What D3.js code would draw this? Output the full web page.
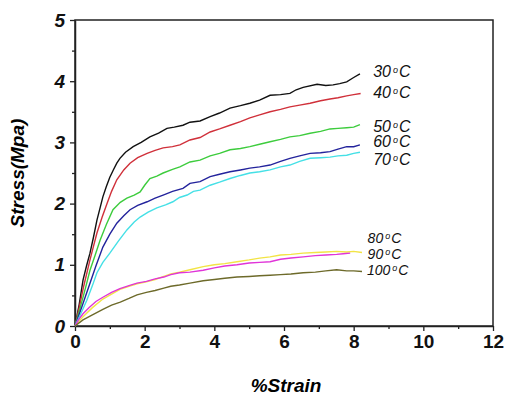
<!DOCTYPE html>
<html>
<head>
<meta charset="utf-8">
<script src="https://cdn.jsdelivr.net/npm/d3@7"></script>
<style>
  body { margin: 0; background: #fff; }
  text { font-family: Arial, "Liberation Sans", sans-serif; }
</style>
</head>
<body>
<div id="chart"></div>
<script>
// stress-strain readings, [strain %, stress MPa]
const c30 = [[0,0],[0.12,0.35],[0.23,0.75],[0.33,0.98],[0.43,1.19],[0.53,1.45],[0.63,1.73],[0.72,1.93],[0.8,2.11],[0.9,2.28],[1.0,2.43],[1.1,2.55],[1.2,2.66],[1.29,2.74],[1.45,2.84],[1.67,2.93],[1.9,3.0],[2.15,3.09],[2.4,3.15],[2.64,3.23],[2.85,3.25],[3.1,3.28],[3.3,3.33],[3.59,3.35],[3.88,3.42],[4.15,3.48],[4.45,3.56],[4.75,3.6],[5.02,3.64],[5.3,3.69],[5.6,3.77],[5.9,3.78],[6.17,3.8],[6.35,3.86],[6.55,3.9],[6.95,3.95],[7.2,3.93],[7.41,3.94],[7.6,3.96],[7.8,3.99],[8.0,4.06],[8.18,4.12]];
const c40 = [[0,0],[0.12,0.3],[0.25,0.65],[0.43,1.08],[0.53,1.3],[0.63,1.52],[0.78,1.78],[0.92,2.0],[1.05,2.2],[1.2,2.39],[1.4,2.55],[1.58,2.66],[1.8,2.75],[2.07,2.82],[2.3,2.87],[2.53,2.91],[2.8,2.93],[3.01,2.96],[3.3,3.04],[3.59,3.08],[3.88,3.17],[4.15,3.22],[4.45,3.28],[4.75,3.34],[5.02,3.4],[5.3,3.45],[5.6,3.5],[5.9,3.54],[6.17,3.58],[6.45,3.61],[6.75,3.64],[7.05,3.68],[7.32,3.71],[7.55,3.73],[7.8,3.76],[8.0,3.78],[8.2,3.8]];
const c50 = [[0,0],[0.15,0.3],[0.3,0.62],[0.43,0.91],[0.58,1.16],[0.72,1.4],[0.9,1.66],[1.09,1.9],[1.3,2.02],[1.49,2.09],[1.7,2.14],[1.87,2.19],[2.0,2.3],[2.15,2.41],[2.35,2.45],[2.53,2.5],[2.8,2.56],[3.01,2.6],[3.3,2.68],[3.59,2.71],[3.88,2.78],[4.15,2.82],[4.45,2.88],[4.75,2.9],[5.02,2.93],[5.3,2.97],[5.6,3.01],[5.9,3.05],[6.17,3.09],[6.45,3.11],[6.75,3.15],[7.05,3.18],[7.32,3.22],[7.55,3.23],[7.8,3.24],[8.0,3.25],[8.18,3.29]];
const c60 = [[0,0],[0.2,0.32],[0.43,0.7],[0.6,0.98],[0.8,1.29],[1.0,1.5],[1.2,1.68],[1.4,1.8],[1.58,1.9],[1.8,1.97],[2.07,2.03],[2.3,2.09],[2.53,2.14],[2.8,2.2],[3.1,2.25],[3.3,2.33],[3.59,2.36],[3.88,2.44],[4.15,2.48],[4.45,2.52],[4.75,2.55],[5.02,2.58],[5.3,2.6],[5.6,2.63],[5.9,2.69],[6.17,2.74],[6.45,2.78],[6.75,2.82],[7.05,2.83],[7.32,2.85],[7.55,2.89],[7.8,2.93],[8.0,2.93],[8.18,2.96]];
const c70 = [[0,0],[0.15,0.18],[0.34,0.42],[0.5,0.66],[0.63,0.87],[0.8,1.04],[1.0,1.19],[1.25,1.39],[1.49,1.57],[1.7,1.7],[1.87,1.78],[2.1,1.86],[2.35,1.93],[2.6,1.98],[2.81,2.03],[3.0,2.1],[3.22,2.14],[3.4,2.2],[3.59,2.22],[3.88,2.3],[4.15,2.35],[4.45,2.41],[4.75,2.46],[5.02,2.5],[5.3,2.52],[5.6,2.55],[5.9,2.6],[6.17,2.63],[6.45,2.69],[6.75,2.74],[7.05,2.75],[7.32,2.76],[7.55,2.78],[7.8,2.79],[8.0,2.82],[8.18,2.84]];
const c80 = [[0,0],[0.12,0.08],[0.23,0.15],[0.5,0.3],[0.8,0.44],[1.05,0.52],[1.29,0.6],[1.55,0.65],[1.78,0.69],[2.05,0.72],[2.3,0.76],[2.55,0.81],[2.75,0.85],[3.0,0.88],[3.3,0.92],[3.68,0.97],[4.0,1.0],[4.3,1.02],[4.65,1.05],[5.0,1.08],[5.3,1.11],[5.6,1.13],[5.9,1.16],[6.2,1.17],[6.55,1.19],[6.9,1.2],[7.2,1.21],[7.51,1.22],[7.8,1.21],[8.0,1.22],[8.24,1.2]];
const c90 = [[0,0],[0.1,0.1],[0.23,0.2],[0.4,0.3],[0.6,0.4],[0.8,0.47],[1.05,0.55],[1.29,0.61],[1.55,0.66],[1.78,0.7],[2.05,0.73],[2.3,0.77],[2.55,0.8],[2.75,0.84],[3.0,0.87],[3.3,0.88],[3.68,0.91],[4.0,0.95],[4.3,0.98],[4.65,1.0],[5.0,1.03],[5.3,1.04],[5.6,1.05],[5.9,1.09],[6.2,1.11],[6.55,1.13],[6.9,1.15],[7.2,1.16],[7.51,1.17],[7.7,1.18],[7.9,1.19]];
const c100 = [[0,0],[0.23,0.1],[0.5,0.18],[0.8,0.27],[1.05,0.34],[1.3,0.39],[1.55,0.45],[1.78,0.51],[2.05,0.55],[2.3,0.58],[2.55,0.62],[2.75,0.65],[3.0,0.67],[3.3,0.7],[3.68,0.74],[4.0,0.76],[4.3,0.78],[4.65,0.8],[5.0,0.81],[5.3,0.82],[5.6,0.83],[5.9,0.84],[6.2,0.85],[6.55,0.87],[6.9,0.88],[7.2,0.9],[7.51,0.92],[7.8,0.9],[8.0,0.9],[8.24,0.89]];

const temps = ["30", "40", "50", "60", "70", "80", "90", "100"];
const curves = [c30, c40, c50, c60, c70, c80, c90, c100];
const colors = ["#111111", "#d0303a", "#3dcc3d", "#23239c", "#45e0e6", "#f2e445", "#e034d8", "#6d6a2a"];
// label baselines, in data units
const labelPos = [[8.56, 4.07], [8.56, 3.73], [8.56, 3.17], [8.56, 2.92], [8.56, 2.63], [8.4, 1.35], [8.4, 1.09], [8.38, 0.84]];

const xTicks = [0, 2, 4, 6, 8, 10, 12];
const yTicks = [0, 1, 2, 3, 4, 5];

const width = 506, height = 400;
const margin = {top: 20, right: 13, bottom: 74, left: 75};

const svg = d3.select("#chart").append("svg")
    .attr("width", width)
    .attr("height", height);

const x = d3.scaleLinear().domain([0, 12]).range([margin.left, width - margin.right]);
const y = d3.scaleLinear().domain([0, 5]).range([height - margin.bottom, margin.top]);

// minor ticks first
svg.append("g")
    .attr("transform", `translate(0,${y(0)})`)
    .call(d3.axisBottom(x).tickValues(d3.range(1, 12, 2)).tickSize(3).tickFormat(""))
    .call(g => g.select(".domain").remove());
svg.append("g")
    .attr("transform", `translate(${x(0)},0)`)
    .call(d3.axisLeft(y).tickValues(d3.range(0.5, 5, 1)).tickSize(3).tickFormat(""))
    .call(g => g.select(".domain").remove());

const xAxis = svg.append("g")
    .attr("transform", `translate(0,${y(0)})`)
    .call(d3.axisBottom(x).tickValues(xTicks).tickFormat(d3.format("d")).tickSize(5).tickSizeOuter(0).tickPadding(4));
xAxis.selectAll("text")
    .attr("font-size", 19).attr("font-weight", "bold").attr("fill", "#111");

const yAxis = svg.append("g")
    .attr("transform", `translate(${x(0)},0)`)
    .call(d3.axisLeft(y).tickValues(yTicks).tickFormat(d3.format("d")).tickSize(5).tickSizeOuter(0).tickPadding(5));
yAxis.selectAll("text")
    .attr("font-size", 19).attr("font-weight", "bold").attr("font-style", "italic").attr("fill", "#111");

svg.selectAll(".tick line").attr("stroke", "#222").attr("stroke-width", 1.3);
svg.selectAll(".domain").attr("stroke", "#222").attr("stroke-width", 1.5);

// frame top and right
svg.append("rect")
    .attr("x", x(0)).attr("y", y(5))
    .attr("width", x(12) - x(0)).attr("height", y(0) - y(5))
    .attr("fill", "none").attr("stroke", "#222").attr("stroke-width", 1.5);

const line = d3.line().x(d => x(d[0])).y(d => y(d[1]));

svg.append("g").selectAll("path")
    .data(curves)
    .join("path")
    .attr("d", line)
    .attr("fill", "none")
    .attr("stroke", (d, i) => colors[i])
    .attr("stroke-width", 1.4);

const labels = svg.append("g").selectAll("text")
    .data(temps)
    .join("text")
    .attr("x", (d, i) => x(labelPos[i][0]))
    .attr("y", (d, i) => y(labelPos[i][1]))
    .attr("font-size", (d, i) => i < 5 ? 16 : 14)
    .attr("font-style", "italic")
    .attr("fill", "#111");
labels.append("tspan").text(d => d);
labels.append("tspan").attr("font-size", 9).attr("dy", -4).attr("dx", 2).text("o");
labels.append("tspan").attr("dy", 4).attr("dx", 1).text("C");

svg.append("text")
    .attr("x", (x(0) + x(12)) / 2 + 2)
    .attr("y", 392)
    .attr("text-anchor", "middle")
    .attr("font-size", 19)
    .attr("font-weight", "bold")
    .attr("font-style", "italic")
    .text("%Strain");

svg.append("text")
    .attr("transform", `translate(24,${(y(0) + y(5)) / 2}) rotate(-90)`)
    .attr("text-anchor", "middle")
    .attr("font-size", 19)
    .attr("font-weight", "bold")
    .attr("font-style", "italic")
    .text("Stress(Mpa)");
</script>
</body>
</html>
